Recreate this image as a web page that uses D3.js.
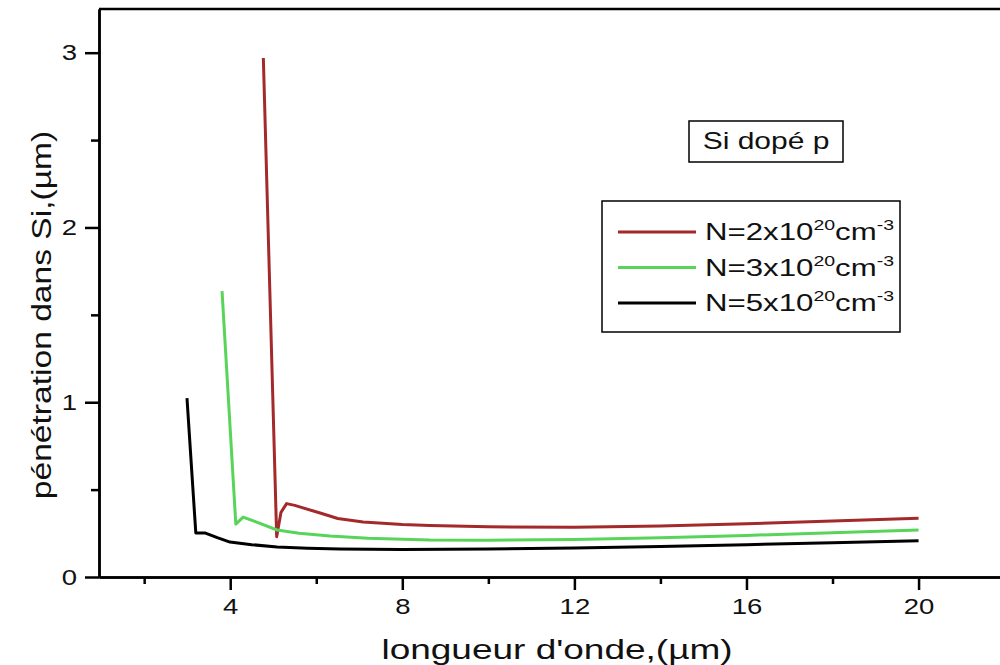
<!DOCTYPE html>
<html>
<head>
<meta charset="utf-8">
<script src="https://cdn.jsdelivr.net/npm/d3@7"></script>
<style>
  body { margin: 0; background: #fff; }
  text { font-family: "Liberation Sans", Arial, sans-serif; fill: #111; }
</style>
</head>
<body>
<div id="chart"></div>
<script>
// values
var lambda2 = [4.77, 5.08, 5.18, 5.31, 5.5, 6.09, 6.5, 7.09, 8.0, 8.64, 10, 12, 14, 16, 18, 20];
var pen2    = [2.97, 0.23, 0.37, 0.42, 0.41, 0.366, 0.335, 0.315, 0.30, 0.295, 0.287, 0.285, 0.292, 0.305, 0.32, 0.336];

var lambda3 = [3.81, 4.13, 4.30, 4.6, 5.09, 5.6, 6.32, 7.2, 8.64, 10, 12, 14, 16, 18, 20];
var pen3    = [1.636, 0.303, 0.343, 0.315, 0.269, 0.25, 0.235, 0.222, 0.212, 0.21, 0.215, 0.225, 0.238, 0.253, 0.269];

var lambda5 = [2.995, 3.20, 3.41, 3.7, 3.995, 4.5, 5.09, 5.8, 6.55, 8, 10, 12, 14, 16, 18, 20];
var pen5    = [1.024, 0.252, 0.252, 0.225, 0.20, 0.185, 0.172, 0.165, 0.16, 0.158, 0.16, 0.166, 0.175, 0.185, 0.196, 0.208];

var xTicks = [4, 8, 12, 16, 20];
var xMinor = [2, 6, 10, 14, 18];
var yTicks = [0, 1, 2, 3];
var yMinor = [0.5, 1.5, 2.5];

var seriesNames = ["2", "3", "5"];
var seriesColors = ["#a3292b", "#58d458", "#000000"];

var width = 1000, height = 665;

var svg = d3.select("#chart").append("svg")
    .attr("width", width)
    .attr("height", height);

svg.append("rect").attr("width", width).attr("height", height).attr("fill", "#fff");

var x = d3.scaleLinear().domain([0.95, 21.9]).range([99, 1000.3]);
var y = d3.scaleLinear().domain([0, 3.25]).range([577, 9]);

var line = d3.line()
    .x(function(d) { return x(d[0]); })
    .y(function(d) { return y(d[1]); });

var data = [
  d3.zip(lambda2, pen2),
  d3.zip(lambda3, pen3),
  d3.zip(lambda5, pen5)
];

// top frame line
svg.append("line")
    .attr("x1", 99).attr("x2", 1000)
    .attr("y1", 9).attr("y2", 9)
    .attr("stroke", "#000").attr("stroke-width", 2.5);

// curves
data.forEach(function(d, i) {
  svg.append("path")
      .datum(d)
      .attr("fill", "none")
      .attr("stroke", seriesColors[i])
      .attr("stroke-width", 3)
      .attr("stroke-linejoin", "round")
      .attr("d", line);
});

// x axis
var gx = svg.append("g")
    .attr("transform", "translate(0," + y(0) + ")")
    .call(d3.axisBottom(x).tickValues(xTicks).tickSize(13).tickSizeOuter(0).tickPadding(8));
svg.append("g")
    .attr("transform", "translate(0," + y(0) + ")")
    .call(d3.axisBottom(x).tickValues(xMinor).tickSize(7).tickSizeOuter(0).tickFormat(""));

// y axis
var gy = svg.append("g")
    .attr("transform", "translate(" + x(0.95) + ",0)")
    .call(d3.axisLeft(y).tickValues(yTicks).tickFormat(d3.format("d")).tickSize(14).tickSizeOuter(0).tickPadding(8));
svg.append("g")
    .attr("transform", "translate(" + x(0.95) + ",0)")
    .call(d3.axisLeft(y).tickValues(yMinor).tickSize(8).tickSizeOuter(0).tickFormat(""));

svg.selectAll(".domain, .tick line")
    .attr("stroke", "#000")
    .attr("stroke-width", 2.5);

gx.selectAll("text")
    .style("font-size", "22px")
    .attr("fill", "#111")
    .attr("transform", "scale(1.25,1)");

gy.selectAll("text")
    .style("font-size", "22px")
    .attr("fill", "#111")
    .attr("x", -22 / 1.25)
    .attr("transform", "scale(1.25,1)");

// axis titles
svg.append("text")
    .attr("transform", "translate(557,659) scale(1.37,1)")
    .attr("text-anchor", "middle")
    .style("font-size", "27px")
    .text("longueur d'onde,(µm)");

svg.append("text")
    .attr("transform", "translate(51,315) rotate(-90) scale(1.2,1)")
    .attr("text-anchor", "middle")
    .style("font-size", "28px")
    .text("pénétration dans Si,(µm)");

// "Si dopé p" box
svg.append("rect")
    .attr("x", 689).attr("y", 121)
    .attr("width", 154).attr("height", 41)
    .attr("fill", "none").attr("stroke", "#000").attr("stroke-width", 1.5);
svg.append("text")
    .attr("transform", "translate(766,149) scale(1.25,1)")
    .attr("text-anchor", "middle")
    .style("font-size", "24px")
    .text("Si dopé p");

// legend
var legend = svg.append("g");
legend.append("rect")
    .attr("x", 602).attr("y", 201)
    .attr("width", 298).attr("height", 131)
    .attr("fill", "none").attr("stroke", "#000").attr("stroke-width", 1.5);

seriesNames.forEach(function(n, i) {
  var ly = 232 + i * 35.5;
  legend.append("line")
      .attr("x1", 618).attr("x2", 696)
      .attr("y1", ly).attr("y2", ly)
      .attr("stroke", seriesColors[i]).attr("stroke-width", 3);
  var t = legend.append("text")
      .attr("transform", "translate(705," + (ly + 8) + ") scale(1.3,1)")
      .style("font-size", "24px");
  t.append("tspan").text("N=" + n + "x10");
  t.append("tspan").style("font-size", "15px").attr("dy", -10).text("20");
  t.append("tspan").attr("dy", 10).text("cm");
  t.append("tspan").style("font-size", "15px").attr("dy", -10).text("-3");
});
</script>
</body>
</html>
